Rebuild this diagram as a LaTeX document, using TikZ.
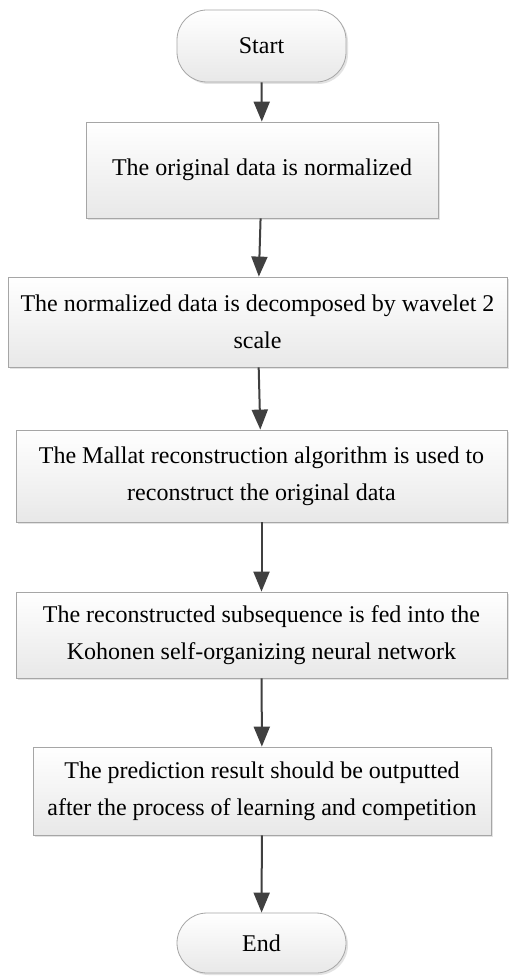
\documentclass[tikz,border=0pt]{standalone}
\usepackage{fontspec}
\setmainfont{Liberation Serif}
\usetikzlibrary{arrows.meta,shadows}
\definecolor{edgegray}{HTML}{A6A6A6}
\definecolor{arrowgray}{HTML}{404040}
\definecolor{shadegray}{HTML}{E8E8E8}
\tikzset{
  x=1pt,y=-1pt,
  procbox/.style={draw=edgegray,line width=0.8pt,top color=white,bottom color=shadegray,
    inner sep=0pt,align=center,font=\fontsize{24}{37}\selectfont,
    drop shadow={shadow xshift=2pt,shadow yshift=-2pt,fill=black!18,opacity=0.6}},
  termbox/.style={procbox,rounded corners=30pt},
  flowarrow/.style={draw=arrowgray,line width=2pt,-{Triangle[length=20pt,width=16pt]}}
}
\newcommand{\boxat}[7]{% name, x1, x2, y1, y2, style, text
  \node[#6,minimum width={#3-#2},minimum height={#5-#4}] (#1) at ({(#2+#3)/2},{(#4+#5)/2}) {#7};}
\begin{document}
\begin{tikzpicture}
\useasboundingbox[fill=white] (0,0) rectangle (510,979);
\boxat{start}{177}{346}{10}{82}{termbox}{Start}
\boxat{b1}{86}{438}{122}{218}{procbox}{The original data is normalized}
\boxat{b2}{8}{507}{277}{367}{procbox}{The normalized data is decomposed by wavelet 2\\scale}
\boxat{b3}{16}{507}{430}{522}{procbox}{The Mallat reconstruction algorithm is used to\\reconstruct the original data}
\boxat{b4}{16}{507}{592}{678}{procbox}{The reconstructed subsequence is fed into the\\Kohonen self-organizing neural network}
\boxat{b5}{33}{491}{747}{835}{procbox}{The prediction result should be outputted\\after the process of learning and competition}
\boxat{end}{177}{346}{913}{973}{termbox}{End}
\draw[flowarrow] (start) -- (b1);
\draw[flowarrow] (b1) -- (b2);
\draw[flowarrow] (b2) -- (b3);
\draw[flowarrow] (b3) -- (b4);
\draw[flowarrow] (b4) -- (b5);
\draw[flowarrow] (b5) -- (end);
\end{tikzpicture}
\end{document}
